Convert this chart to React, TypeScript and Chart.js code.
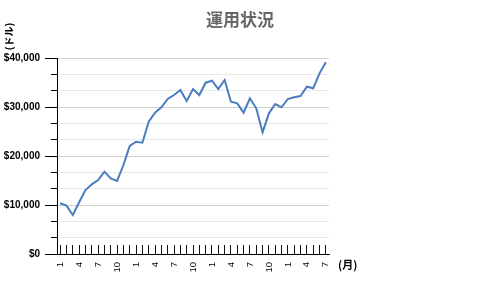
import React, { useEffect, useRef } from 'react';
import { Chart, registerables } from 'chart.js';

Chart.register(...registerables);

const TITLE = '運用状況';
const Y_UNIT = '(ドル)';
const X_UNIT = '(月)';

const months = [
  1, 2, 3, 4, 5, 6, 7, 8, 9, 10, 11, 12,
  1, 2, 3, 4, 5, 6, 7, 8, 9, 10, 11, 12,
  1, 2, 3, 4, 5, 6, 7, 8, 9, 10, 11, 12,
  1, 2, 3, 4, 5, 6, 7,
];

const balance = [
  10350, 9860, 7960, 10550, 13060, 14220, 15100, 16800, 15440, 14900, 18160, 22040,
  22920, 22720, 27000, 28840, 29930, 31630, 32450, 33470, 31220, 33650, 32450, 34960,
  35370, 33670, 35510, 31090, 30750, 28840, 31770, 29730, 24830, 28710, 30610, 29930,
  31630, 31970, 32240, 34150, 33810, 36870, 39120,
];

const Y_MIN = 0;
const Y_MAX = 40000;
const Y_MAJOR = 10000;
const Y_MINOR_COUNT = 13;

function isMajor(v: number) {
  const r = v / Y_MAJOR;
  return Math.abs(r - Math.round(r)) < 1e-6;
}

function fmt(v: number) {
  return '$' + Math.round(v).toLocaleString('en-US');
}

export default function App() {
  const ref = useRef<HTMLCanvasElement>(null);

  useEffect(() => {
    if (!ref.current) return;
    const unitPlugin = {
      id: 'unitLabels',
      afterDraw(chart: any) {
        const { ctx, chartArea } = chart;
        ctx.save();
        ctx.fillStyle = '#000';
        ctx.font = 'bold 10px "Noto Sans CJK JP"';
        ctx.textAlign = 'center';
        ctx.textBaseline = 'middle';
        ctx.translate(9.5, chartArea.top - 21.5);
        ctx.rotate(-Math.PI / 2);
        ctx.fillText(Y_UNIT, 0, 0);
        ctx.restore();

        ctx.save();
        ctx.fillStyle = '#000';
        ctx.font = 'bold 11px "Noto Sans CJK JP"';
        ctx.textAlign = 'left';
        ctx.textBaseline = 'middle';
        ctx.fillText(X_UNIT, chartArea.right + 9, chartArea.bottom + 11);
        ctx.restore();
      },
    };

    const chart = new Chart(ref.current, {
      type: 'line',
      data: {
        labels: months.map(String),
        datasets: [
          {
            data: balance,
            borderColor: '#4a7cc0',
            borderWidth: 2,
            pointRadius: 0,
            tension: 0,
            fill: false,
          },
        ],
      },
      options: {
        responsive: false,
        animation: false,
        devicePixelRatio: 1,
        layout: { padding: 0 },
        plugins: {
          legend: { display: false },
          tooltip: { enabled: false },
          title: {
            display: true,
            text: TITLE,
            color: '#666',
            font: { family: '"Noto Sans CJK JP"', size: 17, weight: 'bold' },
            padding: { top: 9, bottom: 28.6 },
          },
        },
        scales: {
          x: {
            type: 'category',
            offset: true,
            grid: {
              drawOnChartArea: false,
              drawTicks: true,
              tickLength: -9,
              tickColor: '#111',
              tickWidth: 1,
            },
            border: { display: true, color: '#000', width: 1 },
            ticks: {
              autoSkip: false,
              maxRotation: 90,
              minRotation: 90,
              padding: 17,
              color: '#000',
              font: { family: '"Liberation Sans"', size: 9.5 },
              callback: (_v: any, i: number) => {
                const m = months[i];
                return (m - 1) % 3 === 0 ? String(m) : '';
              },
            },
            afterFit: (s: any) => {
              s.height = 35;
            },
          },
          y: {
            position: 'left',
            weight: 1,
            min: Y_MIN,
            max: Y_MAX,
            ticks: {
              count: Y_MINOR_COUNT,
              padding: 11,
              color: '#000',
              font: { family: '"Liberation Sans"', size: 10, weight: 'bold' },
              callback: (v: any) => (isMajor(Number(v)) ? fmt(Number(v)) : ''),
            },
            grid: {
              color: (c: any) => (c.tick && isMajor(c.tick.value) ? '#d2d2d2' : '#e8e8e8'),
              tickColor: '#000',
              tickLength: 6,
              lineWidth: 1,
            },
            border: { display: true, color: '#000', width: 1 },
            afterFit: (s: any) => {
              s.width = 57;
            },
          },
          y2: {
            position: 'left',
            weight: 0,
            min: Y_MIN,
            max: Y_MAX,
            ticks: { display: false, stepSize: Y_MAJOR },
            grid: {
              drawOnChartArea: false,
              tickColor: '#000',
              tickLength: 12,
            },
            border: { display: false },
            afterFit: (s: any) => {
              s.width = 0;
            },
          },
          rightSpace: {
            position: 'right',
            display: true,
            min: Y_MIN,
            max: Y_MAX,
            ticks: { display: false },
            grid: { display: false, drawOnChartArea: false, drawTicks: false },
            border: { display: false },
            afterFit: (s: any) => {
              s.width = 151;
            },
          },
        },
      },
      plugins: [unitPlugin],
    } as any);

    return () => chart.destroy();
  }, []);

  return (
    <canvas
      ref={ref}
      width={480}
      height={289}
      style={{ position: 'absolute', left: 0, top: 0, width: 480, height: 289, display: 'block' }}
    />
  );
}
